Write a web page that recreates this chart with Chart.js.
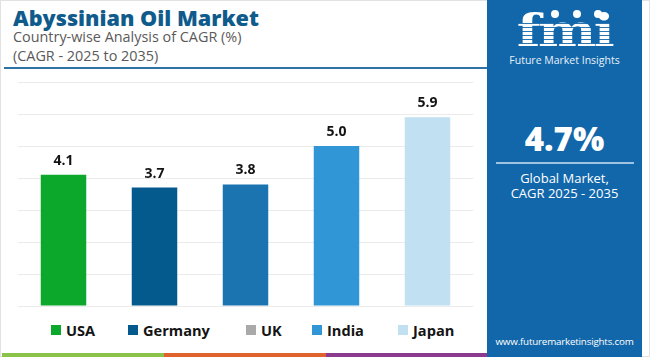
<!DOCTYPE html>
<html>
<head>
<meta charset="utf-8">
<script src="https://cdn.jsdelivr.net/npm/chart.js@4.4.1/dist/chart.umd.min.js"></script>
<style>
  html, body { margin: 0; padding: 0; background: #fff; }
  body { width: 650px; height: 357px; position: relative; overflow: hidden; font-family: "Open Sans", "Noto Sans", sans-serif; }
  .frame { position: absolute; left: 0; top: 0; width: 648px; height: 355px; border: 1px solid #e2e2e2; }
  .title { position: absolute; left: 13px; top: 3px; font-size: 21.6px; font-weight: 800; color: #0f5b8c; white-space: nowrap; }
  .sub { position: absolute; left: 13px; font-size: 14.4px; color: #5a5a5a; white-space: nowrap; }
  .hline { position: absolute; left: 4px; top: 67px; width: 483px; height: 2px; background: #2f73a6; }
  #wrap { position: absolute; left: 0; top: 70px; width: 487px; height: 240px; }
  .legend { position: absolute; top: 320px; left: 0; width: 487px; height: 18px; }
  .legend .item { position: absolute; top: 0; display: flex; align-items: center; font-size: 14.6px; font-weight: 700; color: #141414; }
  .legend .sw { width: 10px; height: 10px; margin-right: 5px; }
  .strip { position: absolute; top: 353px; height: 4px; }
  .panel { position: absolute; left: 487px; top: 0; width: 155px; height: 357px; background: #1267aa; color: #fff; text-align: center; }
  .logo { position: absolute; left: 0; top: 6px; width: 155px; text-align: center; font-family: "DejaVu Serif", serif; font-weight: 700; font-size: 44px; line-height: 50px; letter-spacing: -2px; color: #fff; transform: scaleX(1.25); }
  .stripes { position: absolute; left: 18px; top: 20px; width: 120px; height: 30px; background: repeating-linear-gradient(to bottom, transparent 0px, transparent 3px, rgba(18,103,170,0.9) 3px, rgba(18,103,170,0.9) 4px); }
  .dot { position: absolute; width: 8px; height: 8px; border-radius: 50%; background: #fff; }
  .fmi-name { position: absolute; left: 0; top: 53px; width: 155px; font-size: 10.5px; color: #e8f1f8; }
  .big { position: absolute; left: 0; top: 116px; width: 155px; font-size: 33px; font-weight: 800; }
  .pline { position: absolute; left: 9px; top: 162px; width: 138px; height: 2px; background: #9fc4e3; }
  .ptext { position: absolute; left: 0; width: 155px; font-size: 13px; color: #fff; }
  .url { position: absolute; left: 0; top: 335px; width: 155px; font-size: 9.8px; letter-spacing: -0.2px; color: #fff; }
</style>
</head>
<body>
<div class="frame"></div>
<div class="title">Abyssinian Oil Market</div>
<div class="sub" style="top:27px;">Country-wise Analysis of CAGR (%)</div>
<div class="sub" style="top:46px;">(CAGR - 2025 to 2035)</div>
<div class="hline"></div>
<div id="wrap"><canvas id="c"></canvas></div>
<div class="legend" id="legend"></div>
<div class="strip" style="left:2px;width:162px;background:#8bc24a;"></div>
<div class="strip" style="left:164px;width:162px;background:#e0622f;"></div>
<div class="strip" style="left:326px;width:161px;background:#8b3a8f;"></div>
<div class="panel">
  <div class="logo">fmi</div>
  <div class="stripes"></div>
  <div class="dot" style="left:64px;top:10px;"></div>
  <div class="dot" style="left:86px;top:10px;"></div>
  <div class="dot" style="left:107px;top:10px;"></div>
  <div class="fmi-name">Future Market Insights</div>
  <div class="big">4.7%</div>
  <div class="pline"></div>
  <div class="ptext" style="top:169px;">Global Market,</div>
  <div class="ptext" style="top:184px;">CAGR 2025 - 2035</div>
  <div class="url">www.futuremarketinsights.com</div>
</div>
<script>
// ---- data ----
const categories = ["USA", "Germany", "UK", "India", "Japan"];
const cagrValues = [4.1, 3.7, 3.8, 5.0, 5.9];
const valueLabels = ["4.1", "3.7", "3.8", "5.0", "5.9"];
const yTicks = [0, 1, 2, 3, 4, 5, 6, 7];

// ---- styles ----
const barColors = ["#0ca82c", "#055a8d", "#1b74b0", "#3196d6", "#c1e1f2"];
const legendColors = ["#0ca82c", "#055a8d", "#a9a9a9", "#3196d6", "#c1e1f2"];
const legendX = [51, 128, 246, 312, 398];

// HTML legend built from categories
const lg = document.getElementById('legend');
categories.forEach((c, i) => {
  const d = document.createElement('div');
  d.className = 'item';
  d.style.left = legendX[i] + 'px';
  d.innerHTML = '<span class="sw" style="background:' + legendColors[i] + '"></span><span>' + c + '</span>';
  lg.appendChild(d);
});

const labelPlugin = {
  id: 'valueLabels',
  afterDatasetsDraw(chart) {
    const ctx = chart.ctx;
    const meta = chart.getDatasetMeta(0);
    ctx.save();
    ctx.font = '700 14px "Open Sans", sans-serif';
    ctx.fillStyle = '#141414';
    ctx.textAlign = 'center';
    ctx.textBaseline = 'alphabetic';
    meta.data.forEach((bar, i) => {
      ctx.fillText(valueLabels[i], bar.x, bar.y - 10);
    });
    ctx.restore();
  }
};

new Chart(document.getElementById('c'), {
  type: 'bar',
  data: {
    labels: categories,
    datasets: [{
      data: cagrValues,
      backgroundColor: barColors,
      borderWidth: 0,
      barPercentage: 0.5,
      categoryPercentage: 1.0
    }]
  },
  options: {
    responsive: true,
    maintainAspectRatio: false,
    animation: false,
    layout: { padding: { left: 18, right: 14, top: 12, bottom: 4 } },
    plugins: { legend: { display: false }, tooltip: { enabled: false } },
    scales: {
      x: {
        grid: { display: false, drawTicks: false },
        border: { display: false },
        ticks: { display: false }
      },
      y: {
        min: yTicks[0],
        max: yTicks[yTicks.length - 1],
        afterBuildTicks: (s) => { s.ticks = yTicks.map(v => ({ value: v })); },
        grid: { color: '#ebebeb', lineWidth: 1, drawTicks: false },
        border: { display: false },
        ticks: { display: false }
      }
    }
  },
  plugins: [labelPlugin]
});
</script>
</body>
</html>
